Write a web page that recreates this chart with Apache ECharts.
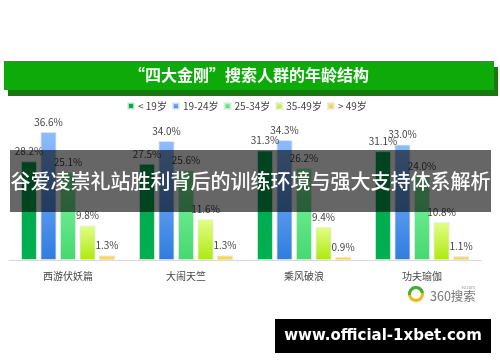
<!DOCTYPE html>
<html>
<head>
<meta charset="utf-8">
<script src="https://cdn.jsdelivr.net/npm/echarts@6/dist/echarts.min.js"></script>
<style>
  html, body { margin: 0; padding: 0; background: #fff; }
  #main { width: 500px; height: 362px; }
</style>
</head>
<body>
<div id="main"></div>
<script>
const categories = ['西游伏妖篇', '大闹天竺', '乘风破浪', '功夫瑜伽']
const under19 = [28.2, 27.5, 31.3, 31.1]
const age19to24 = [36.6, 34.0, 34.3, 33.0]
const age25to34 = [25.1, 25.6, 26.2, 24.0]
const age35to49 = [9.8, 11.6, 9.4, 10.8]
const over49 = [1.3, 1.3, 0.9, 1.1]

const font = '"Noto Sans CJK SC", sans-serif'
const myChart = echarts.init(document.getElementById('main'))

function gradient (top, bottom) {
  return new echarts.graphic.LinearGradient(0, 0, 0, 1, [
    { offset: 0, color: top },
    { offset: 1, color: bottom }
  ])
}

function barSeries (name, data, color) {
  return {
    name: name,
    type: 'bar',
    data: data,
    barWidth: 16,
    barGap: '22%',
    itemStyle: { color: color, borderColor: 'rgba(225,235,225,0.8)', borderWidth: 1 },
    label: {
      show: true,
      position: 'top',
      distance: 5,
      formatter: p => p.value.toFixed(1) + '%',
      fontFamily: font,
      fontSize: 10,
      color: '#444'
    }
  }
}

myChart.setOption({
  animation: false,
  backgroundColor: '#fff',
  title: {
    text: '“四大金刚”搜索人群的年龄结构',
    left: 244,
    top: 62,
    textAlign: 'center',
    textStyle: { fontFamily: font, fontSize: 16, fontWeight: 'bold', color: '#fff' },
    z: 6
  },
  legend: {
    left: 122,
    top: 96,
    itemWidth: 6,
    itemHeight: 6,
    itemGap: 5,
    icon: 'rect',
    textStyle: { fontFamily: font, fontSize: 10, color: '#444', padding: [0, 0, 0, -1] }
  },
  grid: { left: 9, right: 19, top: 120, bottom: 102 },
  xAxis: {
    type: 'category',
    data: categories,
    axisLine: { lineStyle: { color: '#d9d9d9', width: 1 } },
    axisTick: { show: false },
    axisLabel: { fontFamily: font, fontSize: 10, color: '#444', margin: 11 }
  },
  yAxis: { type: 'value', min: 0, max: 40, show: false },
  series: [
    barSeries('< 19岁', under19, gradient('#00a651', '#00b050')),
    barSeries('19-24岁', age19to24, gradient('#8fbcff', '#2e7de0')),
    barSeries('25-34岁', age25to34, gradient('#80f7a0', '#46d870')),
    barSeries('35-49岁', age35to49, gradient('#e2ff85', '#aee810')),
    barSeries('> 49岁', over49, gradient('#ffe27a', '#ffc830'))
  ],
  graphic: [
    { type: 'rect', z: 1, shape: { x: 8, y: 67, width: 490, height: 29 }, style: { fill: '#177a10' } },
    { type: 'rect', z: 2, shape: { x: 4, y: 61, width: 490, height: 29 }, style: { fill: '#0eaa0a' } },
    { type: 'rect', z: 100, shape: { x: 10, y: 150, width: 481, height: 62 }, style: { fill: 'rgba(0,0,0,0.6)' } },
    {
      type: 'text', z: 101, x: 250.5, y: 181,
      style: { text: '谷爱凌崇礼站胜利背后的训练环境与强大支持体系解析', fill: '#fff', font: '500 20px ' + font, align: 'center', verticalAlign: 'middle' }
    },
    { type: 'rect', z: 100, shape: { x: 275, y: 319, width: 216, height: 34 }, style: { fill: '#000' } },
    {
      type: 'text', z: 101, x: 383, y: 336,
      style: { text: 'www.official-1xbet.com', fill: '#fff', font: 'bold 15px "DejaVu Sans", sans-serif', align: 'center', verticalAlign: 'middle' }
    },
    { type: 'arc', z: 5, shape: { cx: 416, cy: 294, r: 6.5, startAngle: 0, endAngle: Math.PI * 2 }, style: { stroke: '#f2b51c', lineWidth: 3, fill: null } },
    { type: 'arc', z: 6, shape: { cx: 416, cy: 294, r: 6.5, startAngle: Math.PI * 0.95, endAngle: Math.PI * 1.95 }, style: { stroke: '#3fae3a', lineWidth: 3, fill: null } },
    {
      type: 'text', z: 5, x: 430, y: 296,
      style: { text: '360搜索', fill: '#777', font: '12.5px ' + font, verticalAlign: 'middle' }
    },
    {
      type: 'text', z: 5, x: 475, y: 287,
      style: { text: 'so.com', fill: '#999', font: '4px ' + font, align: 'right', verticalAlign: 'middle' }
    }
  ]
})
</script>
</body>
</html>
